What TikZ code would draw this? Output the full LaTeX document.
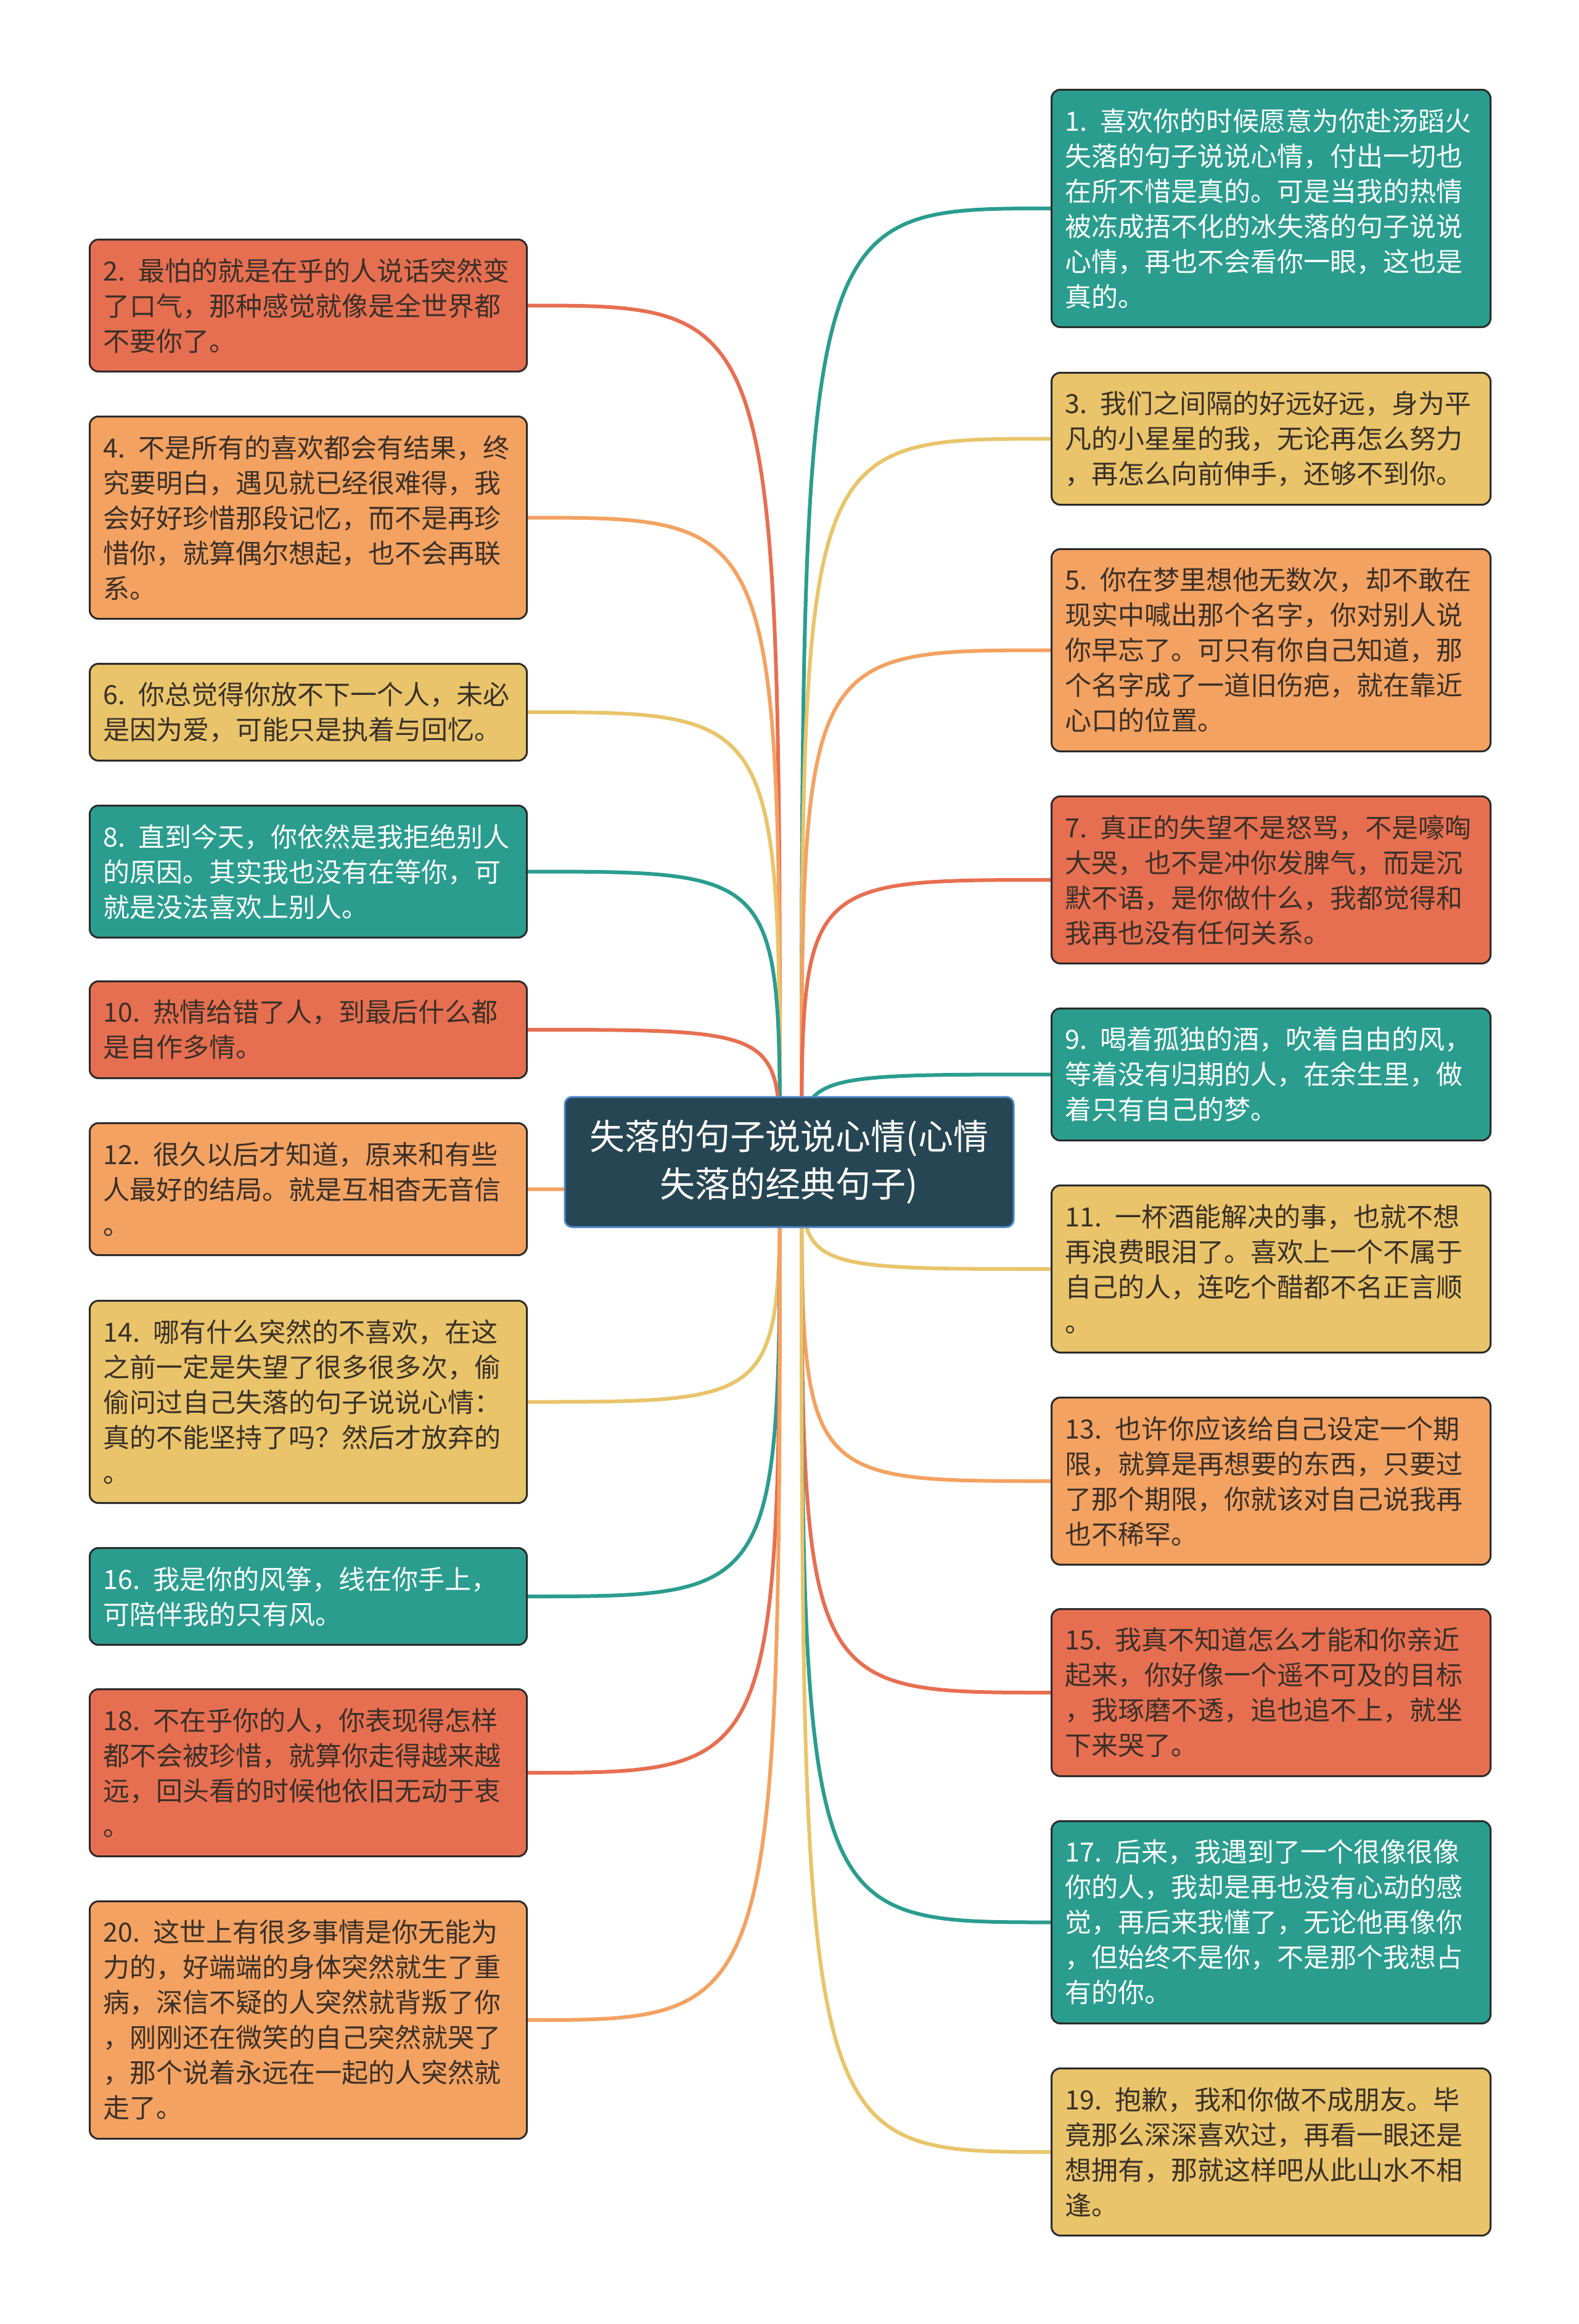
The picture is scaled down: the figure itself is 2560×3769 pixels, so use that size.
\documentclass[tikz,border=0pt]{standalone}
\usepackage{fontspec}
\newfontfamily\cjk{Noto Sans CJK SC}
\usetikzlibrary{backgrounds}
\definecolor{cred}{HTML}{E76F51}
\definecolor{corange}{HTML}{F4A261}
\definecolor{cyellow}{HTML}{E9C46A}
\definecolor{cteal}{HTML}{2A9D8F}
\definecolor{cdark}{HTML}{264653}
\definecolor{cblue}{HTML}{4A86C8}
\definecolor{ctext}{HTML}{3A3028}
\definecolor{cborder}{HTML}{2B2B2B}
\begin{document}
\begin{tikzpicture}[x=1pt,y=-1pt,
  card/.style={draw=cborder, line width=3pt, rounded corners=14pt, anchor=north west,
    inner xsep=22pt, inner ysep=0pt, align=left,
    font=\cjk\fontsize{43}{57}\selectfont, text=ctext},
  lcard/.style={card, text width=665pt},
  rcard/.style={card, text width=668pt},
  wtext/.style={text=white},
  conn/.style={line width=6pt}]
\useasboundingbox (0,0) rectangle (2560,3769);

% center
\node[draw=cblue, line width=3pt, fill=cdark, rounded corners=12pt, minimum width=728pt,
  minimum height=211pt, text=white, align=center, inner sep=0pt,
  font=\cjk\fontsize{57}{77}\selectfont] (c) at (1280,1884.5)
  {失落的句子说说心情(心情\\失落的经典句子)};
\coordinate (cl) at (1265,1884);
\coordinate (cr) at (1300,1884);

% left column
\node[lcard, fill=cred, minimum height=214pt] (n2) at (144,387)
  {2. 最怕的就是在乎的人说话突然变\\了口气，那种感觉就像是全世界都\\不要你了。};
\node[lcard, fill=corange, minimum height=328pt] (n4) at (144,674)
  {4. 不是所有的喜欢都会有结果，终\\究要明白，遇见就已经很难得，我\\会好好珍惜那段记忆，而不是再珍\\惜你，就算偶尔想起，也不会再联\\系。};
\node[lcard, fill=cyellow, minimum height=157pt] (n6) at (144,1075)
  {6. 你总觉得你放不下一个人，未必\\是因为爱，可能只是执着与回忆。};
\node[lcard, fill=cteal, wtext, minimum height=214pt] (n8) at (144,1305)
  {8. 直到今天，你依然是我拒绝别人\\的原因。其实我也没有在等你，可\\就是没法喜欢上别人。};
\node[lcard, fill=cred, minimum height=157pt] (n10) at (144,1590)
  {10. 热情给错了人，到最后什么都\\是自作多情。};
\node[lcard, fill=corange, minimum height=214pt] (n12) at (144,1820)
  {12. 很久以后才知道，原来和有些\\人最好的结局。就是互相杳无音信\\。};
\node[lcard, fill=cyellow, minimum height=328pt] (n14) at (144,2108)
  {14. 哪有什么突然的不喜欢，在这\\之前一定是失望了很多很多次，偷\\偷问过自己失落的句子说说心情：\\真的不能坚持了吗？然后才放弃的\\。};
\node[lcard, fill=cteal, wtext, minimum height=157pt] (n16) at (144,2509)
  {16. 我是你的风筝，线在你手上，\\可陪伴我的只有风。};
\node[lcard, fill=cred, minimum height=271pt] (n18) at (144,2738)
  {18. 不在乎你的人，你表现得怎样\\都不会被珍惜，就算你走得越来越\\远，回头看的时候他依旧无动于衷\\。};
\node[lcard, fill=corange, minimum height=385pt] (n20) at (144,3082)
  {20. 这世上有很多事情是你无能为\\力的，好端端的身体突然就生了重\\病，深信不疑的人突然就背叛了你\\，刚刚还在微笑的自己突然就哭了\\，那个说着永远在一起的人突然就\\走了。};

% right column
\node[rcard, fill=cteal, wtext, minimum height=385pt] (n1) at (1704,144)
  {1. 喜欢你的时候愿意为你赴汤蹈火\\失落的句子说说心情，付出一切也\\在所不惜是真的。可是当我的热情\\被冻成捂不化的冰失落的句子说说\\心情，再也不会看你一眼，这也是\\真的。};
\node[rcard, fill=cyellow, minimum height=214pt] (n3) at (1704,603)
  {3. 我们之间隔的好远好远，身为平\\凡的小星星的我，无论再怎么努力\\，再怎么向前伸手，还够不到你。};
\node[rcard, fill=corange, minimum height=328pt] (n5) at (1704,889)
  {5. 你在梦里想他无数次，却不敢在\\现实中喊出那个名字，你对别人说\\你早忘了。可只有你自己知道，那\\个名字成了一道旧伤疤，就在靠近\\心口的位置。};
\node[rcard, fill=cred, minimum height=271pt] (n7) at (1704,1290)
  {7. 真正的失望不是怒骂，不是嚎啕\\大哭，也不是冲你发脾气，而是沉\\默不语，是你做什么，我都觉得和\\我再也没有任何关系。};
\node[rcard, fill=cteal, wtext, minimum height=214pt] (n9) at (1704,1634)
  {9. 喝着孤独的酒，吹着自由的风，\\等着没有归期的人，在余生里，做\\着只有自己的梦。};
\node[rcard, fill=cyellow, minimum height=271pt] (n11) at (1704,1921)
  {11. 一杯酒能解决的事，也就不想\\再浪费眼泪了。喜欢上一个不属于\\自己的人，连吃个醋都不名正言顺\\。};
\node[rcard, fill=corange, minimum height=271pt] (n13) at (1704,2265)
  {13. 也许你应该给自己设定一个期\\限，就算是再想要的东西，只要过\\了那个期限，你就该对自己说我再\\也不稀罕。};
\node[rcard, fill=cred, minimum height=271pt] (n15) at (1704,2608)
  {15. 我真不知道怎么才能和你亲近\\起来，你好像一个遥不可及的目标\\，我琢磨不透，追也追不上，就坐\\下来哭了。};
\node[rcard, fill=cteal, wtext, minimum height=328pt] (n17) at (1704,2952)
  {17. 后来，我遇到了一个很像很像\\你的人，我却是再也没有心动的感\\觉，再后来我懂了，无论他再像你\\，但始终不是你，不是那个我想占\\有的你。};
\node[rcard, fill=cyellow, minimum height=271pt] (n19) at (1704,3353)
  {19. 抱歉，我和你做不成朋友。毕\\竟那么深深喜欢过，再看一眼还是\\想拥有，那就这样吧从此山水不相\\逢。};

\begin{pgfonlayer}{background}
\fill[white] (0,0) rectangle (2560,3769);
\foreach \n/\col in {n2/cred,n4/corange,n6/cyellow,n8/cteal,n10/cred,n12/corange,n14/cyellow,n16/cteal,n18/cred,n20/corange}
  \draw[conn, draw=\col] (cl) .. controls (cl |- \n.east) .. (\n.east);
\foreach \n/\col in {n1/cteal,n3/cyellow,n5/corange,n7/cred,n9/cteal,n11/cyellow,n13/corange,n15/cred,n17/cteal,n19/cyellow}
  \draw[conn, draw=\col] (cr) .. controls (cr |- \n.west) .. (\n.west);
\end{pgfonlayer}
\end{tikzpicture}
\end{document}
